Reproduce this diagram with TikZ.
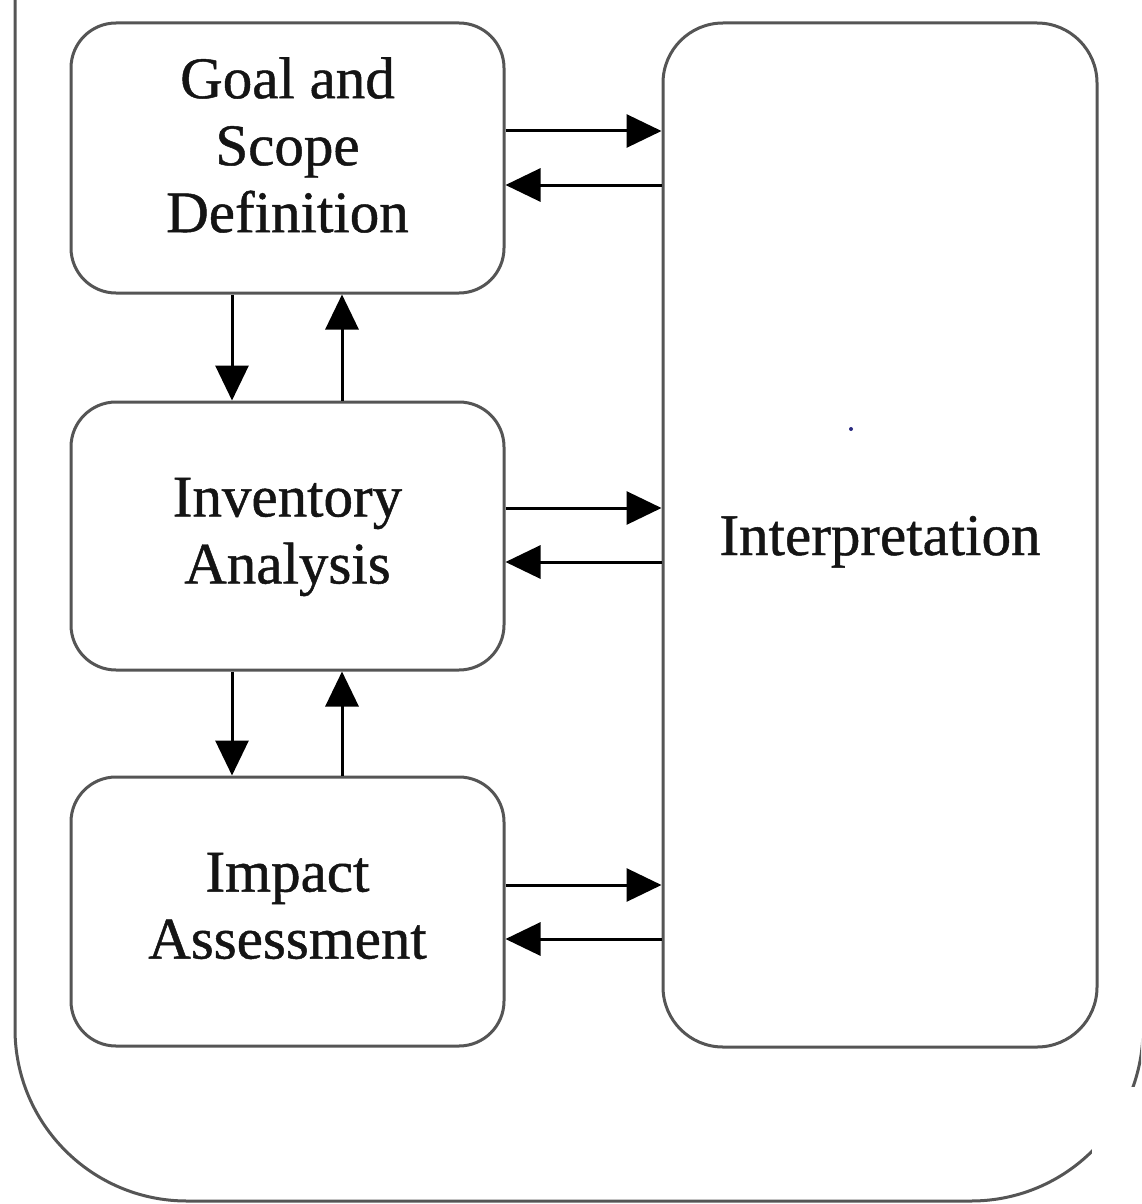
\documentclass[tikz,border=0pt]{standalone}
\usepackage{fontspec}
\setmainfont{Liberation Serif}
\newfontfamily\heavyserif[FakeBold=0.8]{Liberation Serif}
\usetikzlibrary{arrows.meta}
\definecolor{boxgray}{HTML}{555555}
\definecolor{txt}{HTML}{141414}
\definecolor{dotblue}{HTML}{2A2A80}
\begin{document}
\begin{tikzpicture}[x=1pt,y=-1pt,
  stage/.style={draw=boxgray, line width=3pt, rounded corners=45pt, inner sep=0pt, minimum width=433pt},
  lbl/.style={font=\heavyserif\fontsize{59}{67}\selectfont, align=center, text=txt, inner sep=0pt},
  arr/.style={-{Triangle[length=35pt,width=33pt]}, line width=3pt, draw=black}]
\useasboundingbox (0,0) rectangle (1141,1204);
\begin{scope}
\clip (0,0) rectangle (1141,1204);
\draw[boxgray, line width=3pt, rounded corners=172pt] (15,-300) -- (15,1201) -- (1143,1201) -- (1143,-300);
\fill[white] (1092,1087) rectangle (1141,1204);
\end{scope}
% boxes
\node[stage, minimum height=270pt] (goal) at (287.5,158) {};
\node[stage, minimum height=268pt] (inv) at (287.5,536) {};
\node[stage, minimum height=269pt] (imp) at (287.5,911.5) {};
\node[stage, minimum width=434pt, minimum height=1024pt, rounded corners=60pt] (interp) at (880,535) {};
% labels
\node[lbl] (goalt) at (287.5,145) {Goal and\\Scope\\Definition};
\node[lbl] (invt) at (287.5,537) {Inventory\\Analysis};
\node[lbl] (impt) at (287.5,906) {Impact\\Assessment};
\node[lbl, anchor=base] (interpt) at (880,555) {Interpretation};
\fill[dotblue] (851,429) circle (2);
% helper coordinates
\coordinate (ya) at (0,131);
\coordinate (yb) at (0,185);
\coordinate (yc) at (0,508);
\coordinate (yd) at (0,562);
\coordinate (ye) at (0,885);
\coordinate (yf) at (0,939);
\coordinate (xa) at (232,0);
\coordinate (xb) at (342,0);
% horizontal arrows
\draw[arr] (goal.east |- ya) -- (interp.west |- ya);
\draw[arr] (interp.west |- yb) -- (goal.east |- yb);
\draw[arr] (inv.east |- yc) -- (interp.west |- yc);
\draw[arr] (interp.west |- yd) -- (inv.east |- yd);
\draw[arr] (imp.east |- ye) -- (interp.west |- ye);
\draw[arr] (interp.west |- yf) -- (imp.east |- yf);
% vertical arrows
\draw[arr] (goal.south -| xa) -- (inv.north -| xa);
\draw[arr] (inv.north -| xb) -- (goal.south -| xb);
\draw[arr] (inv.south -| xa) -- (imp.north -| xa);
\draw[arr] (imp.north -| xb) -- (inv.south -| xb);
\end{tikzpicture}
\end{document}
